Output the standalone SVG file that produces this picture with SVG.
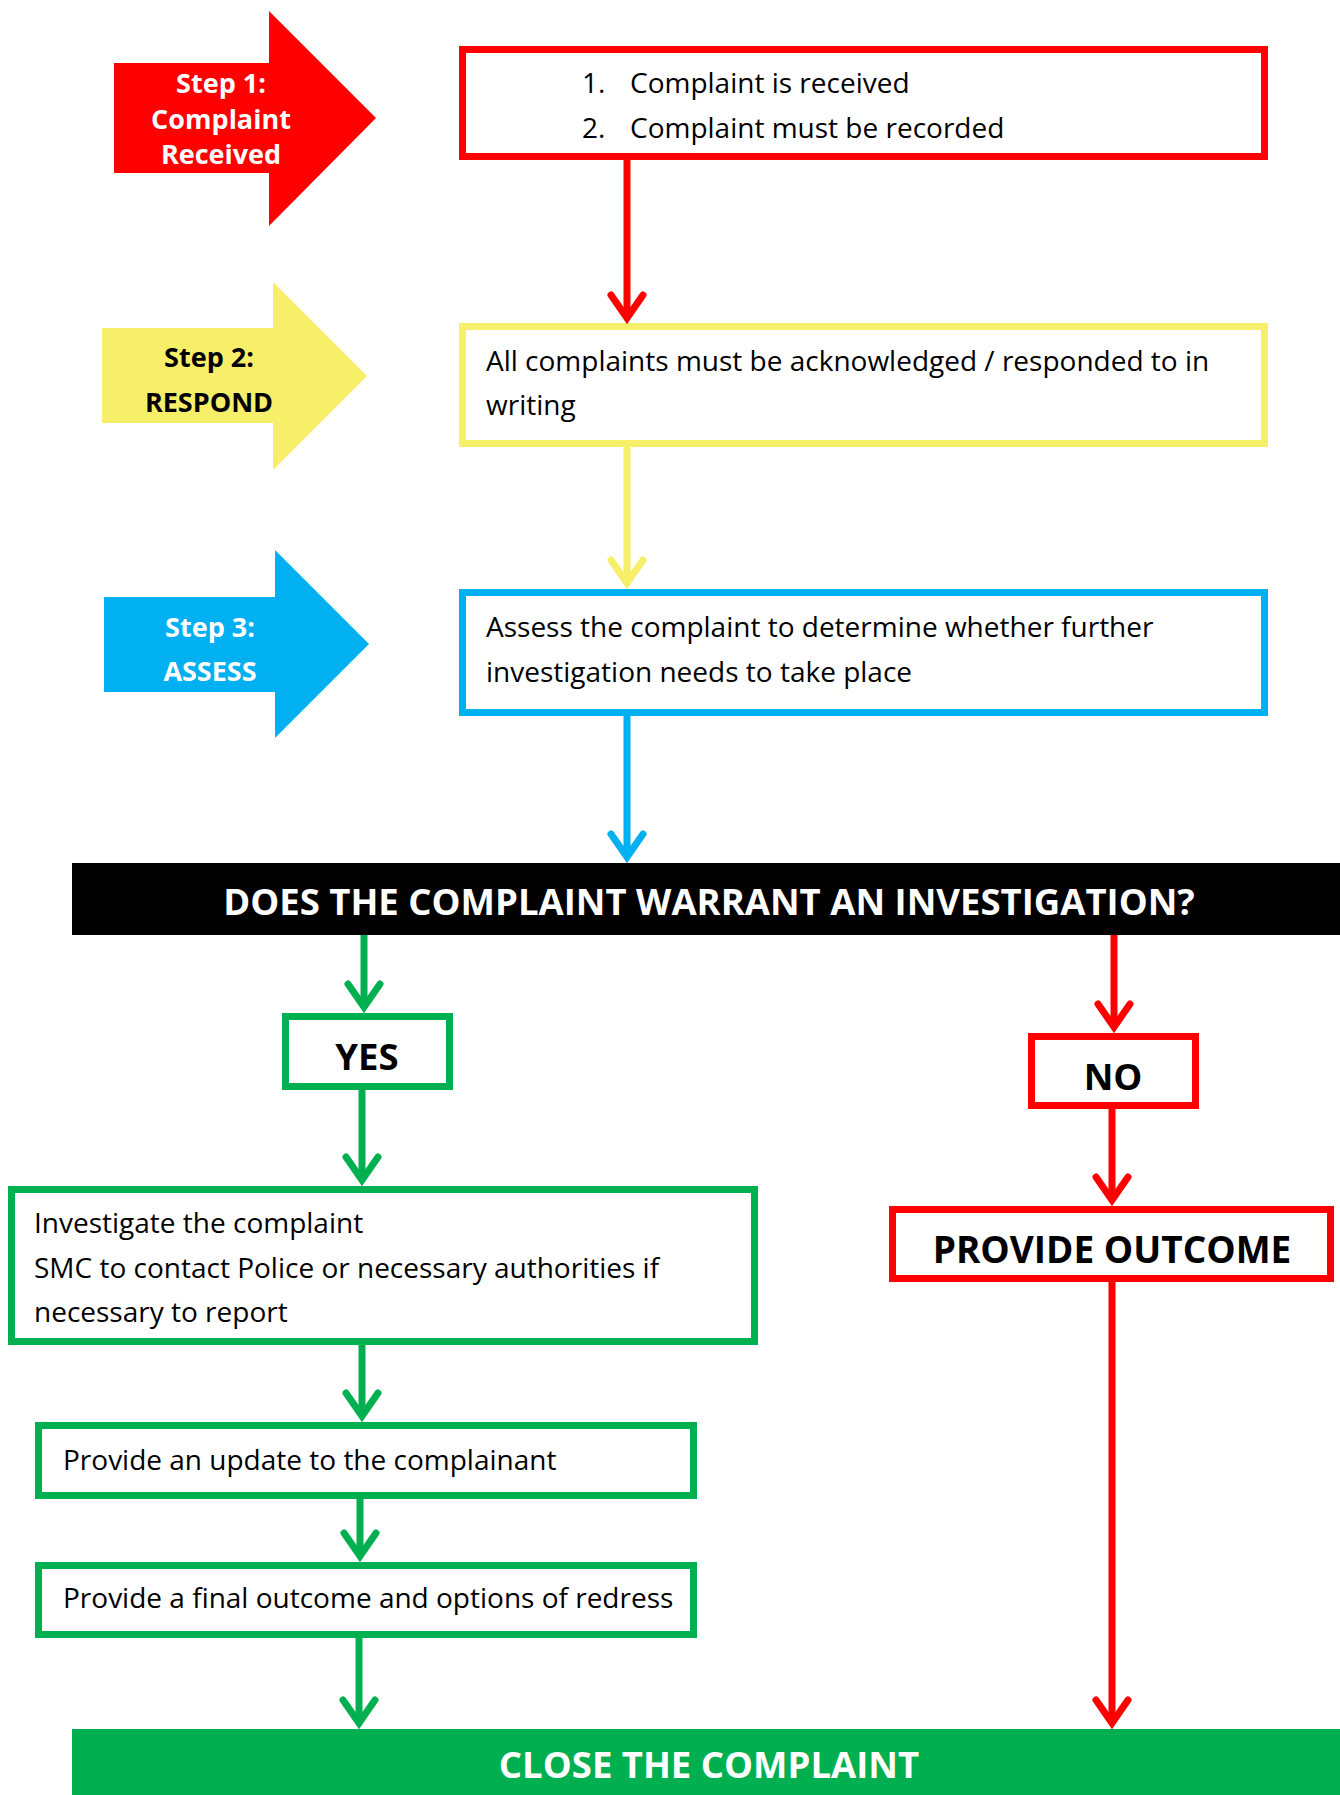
<svg xmlns="http://www.w3.org/2000/svg" width="1340" height="1795" viewBox="0 0 1340 1795">
<defs>
<style>
.box{fill:#fff;stroke-width:7}
.red{stroke:#FF0000}
.yel{stroke:#F7EF6A}
.blu{stroke:#00B0F0}
.grn{stroke:#00B050}
.conn{fill:none;stroke-width:7}
.t{font-family:"Open Sans","Liberation Sans",sans-serif;font-size:28px;fill:#000}
.sb{font-family:"Open Sans","Liberation Sans",sans-serif;font-size:27px;font-weight:bold;text-anchor:middle}
.hd{font-family:"Open Sans","Liberation Sans",sans-serif;font-size:36.5px;font-weight:bold;text-anchor:middle}
.chev{fill:none;stroke-width:7;stroke-linecap:round;stroke-linejoin:miter}
</style>
<marker id="mR" markerUnits="userSpaceOnUse" viewBox="-40 -30 60 60" markerWidth="60" markerHeight="60" refX="0" refY="0" orient="auto"><path class="chev" stroke="#FF0000" d="M-23,-16 L0,0 L-23,16"/></marker>
<marker id="mY" markerUnits="userSpaceOnUse" viewBox="-40 -30 60 60" markerWidth="60" markerHeight="60" refX="0" refY="0" orient="auto"><path class="chev" stroke="#F7EF6A" d="M-23,-16 L0,0 L-23,16"/></marker>
<marker id="mB" markerUnits="userSpaceOnUse" viewBox="-40 -30 60 60" markerWidth="60" markerHeight="60" refX="0" refY="0" orient="auto"><path class="chev" stroke="#00B0F0" d="M-23,-16 L0,0 L-23,16"/></marker>
<marker id="mG" markerUnits="userSpaceOnUse" viewBox="-40 -30 60 60" markerWidth="60" markerHeight="60" refX="0" refY="0" orient="auto"><path class="chev" stroke="#00B050" d="M-23,-16 L0,0 L-23,16"/></marker>
</defs>
<rect width="1340" height="1795" fill="#fff"/>

<g id="step1">
<polygon points="114,63 269,63 269,11 376,118 269,226 269,173 114,173" fill="#FF0000"/>
<text class="sb" fill="#fff" x="221" y="93">Step 1:</text>
<text class="sb" fill="#fff" x="221" y="129">Complaint</text>
<text class="sb" fill="#fff" x="221" y="164">Received</text>
</g>
<g id="step2">
<polygon points="102,328 273,328 273,282 367,376 273,470 273,423 102,423" fill="#F7EF6A"/>
<text class="sb" fill="#000" x="209" y="367">Step 2:</text>
<text class="sb" fill="#000" x="209" y="412">RESPOND</text>
</g>
<g id="step3">
<polygon points="104,597 275,597 275,550 369,644 275,738 275,692 104,692" fill="#00B0F0"/>
<text class="sb" fill="#fff" x="210" y="637">Step 3:</text>
<text class="sb" fill="#fff" x="210" y="681">ASSESS</text>
</g>

<g id="received">
<rect class="box red" x="462.5" y="49.5" width="802" height="107"/>
<text class="t" x="582" y="93">1.</text>
<text class="t" x="630" y="93">Complaint is received</text>
<text class="t" x="582" y="138">2.</text>
<text class="t" x="630" y="138">Complaint must be recorded</text>
</g>
<g id="respond">
<rect class="box yel" x="462.5" y="326.5" width="802" height="117"/>
<text class="t" x="486" y="371">All complaints must be acknowledged / responded to in</text>
<text class="t" x="486" y="415">writing</text>
</g>
<g id="assess">
<rect class="box blu" x="462.5" y="592.5" width="802" height="120"/>
<text class="t" x="486" y="637">Assess the complaint to determine whether further</text>
<text class="t" x="486" y="682">investigation needs to take place</text>
</g>
<g id="question">
<rect x="72" y="863" width="1268" height="72" fill="#000"/>
<text class="hd" fill="#fff" x="709" y="915">DOES THE COMPLAINT WARRANT AN INVESTIGATION?</text>
</g>
<g id="yes">
<rect class="box grn" x="285.5" y="1016.5" width="164" height="70"/>
<text class="hd" fill="#000" x="367" y="1070">YES</text>
</g>
<g id="no">
<rect class="box red" x="1031.5" y="1036.5" width="164" height="69"/>
<text class="hd" fill="#000" x="1113" y="1090">NO</text>
</g>
<g id="outcome">
<rect class="box red" x="892.5" y="1209.5" width="438" height="69"/>
<text class="hd" fill="#000" x="1112" y="1263" style="font-size:37px">PROVIDE OUTCOME</text>
</g>
<g id="investigate">
<rect class="box grn" x="11.5" y="1189.5" width="743" height="152"/>
<text class="t" x="34" y="1233">Investigate the complaint</text>
<text class="t" x="34" y="1278">SMC to contact Police or necessary authorities if</text>
<text class="t" x="34" y="1322">necessary to report</text>
</g>
<g id="update">
<rect class="box grn" x="38.5" y="1425.5" width="655" height="70"/>
<text class="t" x="63" y="1470">Provide an update to the complainant</text>
</g>
<g id="final">
<rect class="box grn" x="38.5" y="1565.5" width="655" height="69"/>
<text class="t" x="63" y="1608">Provide a final outcome and options of redress</text>
</g>
<g id="close">
<rect x="72" y="1729" width="1268" height="66" fill="#00B050"/>
<text class="hd" fill="#fff" x="709" y="1778">CLOSE THE COMPLAINT</text>
</g>

<g id="connectors" class="conn">
<line x1="627" y1="160" x2="627" y2="318" class="red" marker-end="url(#mR)"/>
<line x1="627" y1="447" x2="627" y2="583" class="yel" marker-end="url(#mY)"/>
<line x1="627" y1="716" x2="627" y2="857" class="blu" marker-end="url(#mB)"/>
<line x1="364" y1="935" x2="364" y2="1007" class="grn" marker-end="url(#mG)"/>
<line x1="362" y1="1090" x2="362" y2="1180" class="grn" marker-end="url(#mG)"/>
<line x1="362" y1="1345" x2="362" y2="1416" class="grn" marker-end="url(#mG)"/>
<line x1="360" y1="1499" x2="360" y2="1556" class="grn" marker-end="url(#mG)"/>
<line x1="359" y1="1638" x2="359" y2="1723" class="grn" marker-end="url(#mG)"/>
<line x1="1114" y1="935" x2="1114" y2="1027" class="red" marker-end="url(#mR)"/>
<line x1="1112" y1="1109" x2="1112" y2="1200" class="red" marker-end="url(#mR)"/>
<line x1="1112" y1="1282" x2="1112" y2="1723" class="red" marker-end="url(#mR)"/>
</g>
</svg>
